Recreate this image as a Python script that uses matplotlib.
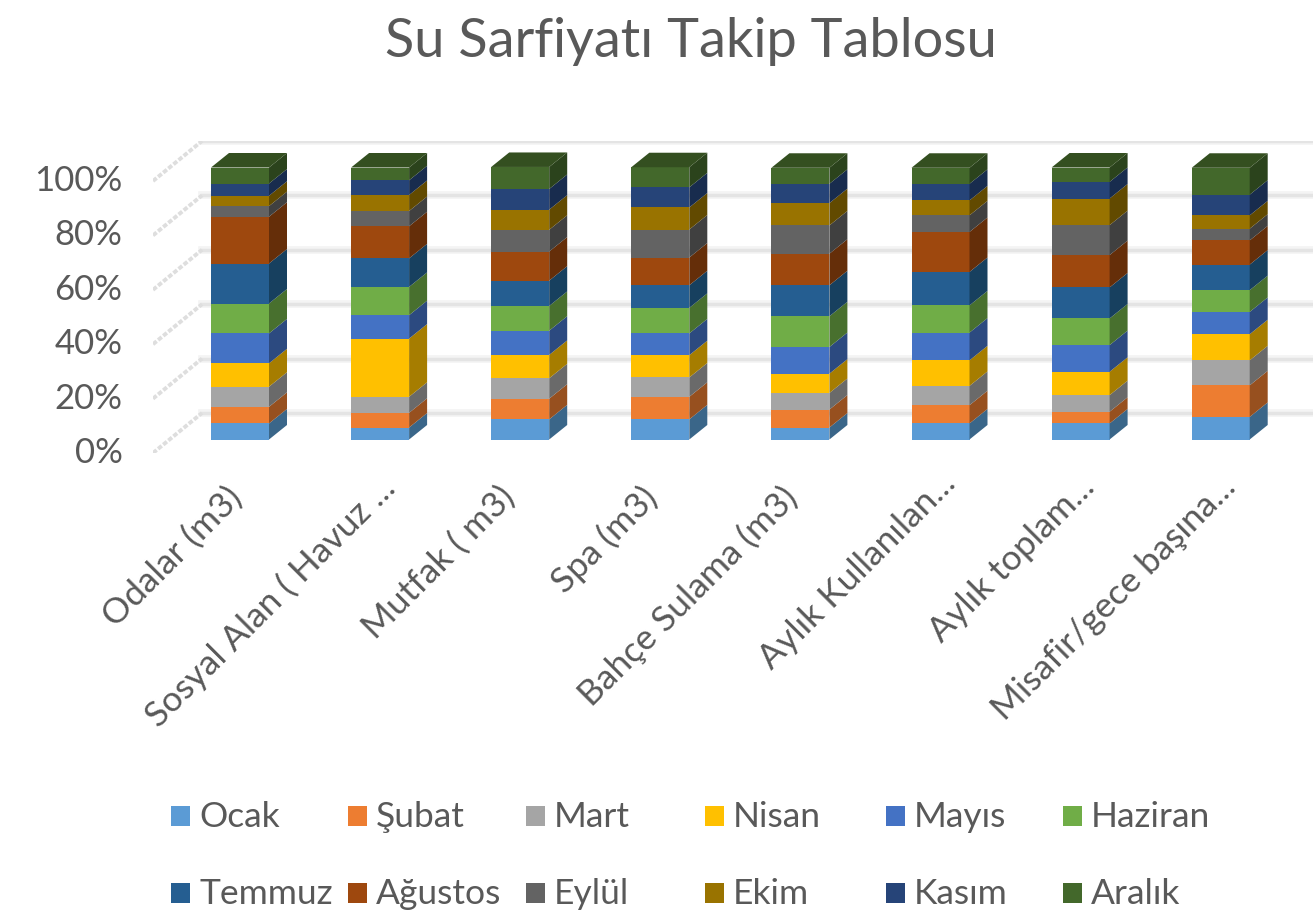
import matplotlib.pyplot as plt
from matplotlib.patches import Rectangle
from matplotlib.transforms import ScaledTranslation
plt.rcParams['font.family'] = ['Lato', 'DejaVu Sans']

W, H = 1313, 923

kategoriler = ['Odalar (m3)', 'Sosyal Alan ( Havuz ...', 'Mutfak ( m3)', 'Spa (m3)',
               'Bahçe Sulama (m3)', 'Aylık Kullanılan...', 'Aylık toplam...', 'Misafir/gece başına...']
aylar = ['Ocak', 'Şubat', 'Mart', 'Nisan', 'Mayıs', 'Haziran',
         'Temmuz', 'Ağustos', 'Eylül', 'Ekim', 'Kasım', 'Aralık']

# aylik yuzde paylar
ocak = [5.9, 4.4, 7.4, 7.4, 4.4, 5.9, 5.9, 8.3]
subat = [6.1, 5.4, 7.6, 8.3, 6.6, 6.7, 4.3, 11.6]
mart = [7.4, 5.9, 7.5, 7.1, 6.1, 7.1, 6.1, 9.2]
nisan = [8.6, 21.4, 8.6, 8.2, 7.1, 9.4, 8.6, 9.6]
mayis = [11.0, 8.6, 8.9, 8.0, 9.8, 10.2, 9.8, 8.2]
haziran = [11.0, 10.4, 9.1, 9.4, 11.3, 10.0, 9.8, 8.0]
temmuz = [14.7, 10.5, 9.3, 8.3, 11.4, 12.3, 11.4, 9.4]
agustos = [17.2, 11.8, 10.7, 10.2, 11.6, 14.7, 11.9, 8.9]
eylul = [3.9, 5.6, 8.0, 10.3, 10.4, 6.1, 11.0, 4.3]
ekim = [3.8, 5.9, 7.4, 8.1, 8.2, 5.5, 9.8, 4.9]
kasim = [4.5, 5.4, 7.6, 7.4, 7.1, 6.1, 6.1, 7.6]
aralik = [5.9, 4.7, 8.1, 7.4, 5.9, 5.9, 5.3, 9.9]
seriler = [ocak, subat, mart, nisan, mayis, haziran, temmuz, agustos, eylul, ekim, kasim, aralik]

renkler = ['#5B9BD5', '#ED7D31', '#A5A5A5', '#FFC000', '#4472C4', '#70AD47',
           '#255E91', '#9E480E', '#636363', '#997300', '#264478', '#43682B']
yan_renkler = ['#3A6689', '#97501F', '#6A6A6A', '#A67D00', '#2C4A80', '#48702E',
               '#17405F', '#652E09', '#404040', '#624A00', '#182C4E', '#2B431C']

PX_X = 140.1   # kategori araligi
PX_Y = 2.72    # %1 yuksekligi

fig = plt.figure(figsize=(W / 100, H / 100), dpi=100)
ax = fig.add_axes([153 / W, (H - 453) / H, (W - 153) / W, 312 / H])
ax.set_xlim((153 - 240) / PX_X, (W - 240) / PX_X)
ax.set_ylim(0, 312 / PX_Y)
for s in ax.spines.values():
    s.set_visible(False)

# arka duvar ve sol duvar cizgileri
duvar_x = 49 / PX_X
duvar_y = 40 / PX_Y
sol = ax.get_xlim()[0]
sag = ax.get_xlim()[1]
yuzdeler = [0, 20, 40, 60, 80, 100]
for p in yuzdeler:
    ax.plot([sol + duvar_x, sag], [p + duvar_y, p + duvar_y], color='#f4f4f4', lw=5.5, zorder=1)
    ax.plot([sol + duvar_x, sag], [p + duvar_y, p + duvar_y], color='#e4e4e4', lw=2.5, zorder=1)
    ax.plot([sol, sol + duvar_x], [p, p + duvar_y], color='#dedede', lw=2.8,
            ls=(0, (1.2, 0.5)), zorder=1)

# cubuklar: on yuz + yan yuz + ust yuz
taban = 13.5 / PX_Y
gen = 58 / PX_X
dx = 18 / PX_X
dy = 14.5 / PX_Y
alt = [taban] * len(kategoriler)
for k, seri in enumerate(seriler):
    ax.bar(range(len(seri)), seri, width=gen, bottom=alt, color=renkler[k], zorder=3)
    for i, v in enumerate(seri):
        x1 = i + gen / 2
        ax.fill([x1, x1 + dx, x1 + dx, x1],
                [alt[i], alt[i] + dy, alt[i] + v + dy, alt[i] + v],
                color=yan_renkler[k], lw=0, zorder=3)
    alt = [a + v for a, v in zip(alt, seri)]
for i in range(len(kategoriler)):
    x0 = i - gen / 2
    ax.fill([x0, x0 + dx, x0 + gen + dx, x0 + gen],
            [alt[i], alt[i] + dy, alt[i] + dy, alt[i]],
            color='#344F20', lw=0, zorder=3)

ax.set_yticks(yuzdeler)
ax.set_yticklabels([str(p) + '%' for p in yuzdeler])
ax.tick_params(axis='y', length=0, pad=22, labelsize=25, labelcolor='#595959')
for t in ax.get_yticklabels():
    t.set_transform(t.get_transform() + ScaledTranslation(0, 3 / 72 * 0.72, fig.dpi_scale_trans))

ax.set_xticks(range(len(kategoriler)))
ax.set_xticklabels(kategoriler, rotation=45, ha='right', va='top', rotation_mode='anchor')
ax.tick_params(axis='x', length=0, pad=20, labelsize=25.5, labelcolor='#595959')
# etiket uclari resimdeki gibi olsun diye piksel kaydirma
kaydir = [(-15, 0), (-2, 10), (-22, 0), (-20, 0), (-20, 0), (-2, 14), (-3, 10), (-2, 10)]
for t, (kx, ky) in zip(ax.get_xticklabels(), kaydir):
    t.set_transform(t.get_transform() + ScaledTranslation(kx / 100, ky / 100, fig.dpi_scale_trans))

fig.text(691 / W, 1 - 42 / H, 'Su Sarfiyatı Takip Tablosu', fontsize=39, color='#595959',
         ha='center', va='center')

# lejant iki satir alti sutun
lej_x = [171, 348, 526, 705, 886, 1063]
lej_y = [816, 893]
for k, ay in enumerate(aylar):
    x = lej_x[k % 6]
    y = lej_y[k // 6]
    fig.add_artist(Rectangle((x / W, 1 - (y + 10) / H), 19 / W, 20 / H,
                             transform=fig.transFigure, color=renkler[k], lw=0))
    fig.text((x + 28) / W, 1 - (y + 1) / H, ay, fontsize=25.5, color='#595959', ha='left', va='center')

fig.savefig('out.png', dpi=100)
